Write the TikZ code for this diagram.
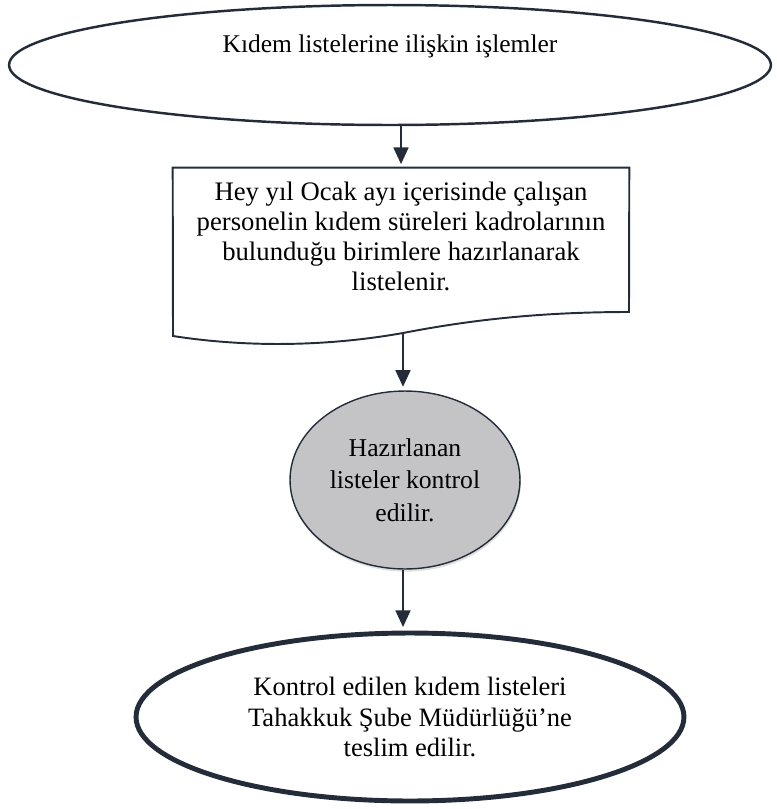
\documentclass[tikz,border=0pt]{standalone}
\usepackage{fontspec}
\setmainfont{Liberation Serif}
\usetikzlibrary{shapes.geometric,arrows.meta,shadows}
\definecolor{cizgi}{RGB}{36,44,58}
\definecolor{gri}{RGB}{196,196,198}
\tikzset{
  ok/.style={draw=cizgi,line width=1.1pt,shorten >=2pt,-{Triangle[length=9.5pt,width=8.5pt]}},
  metin/.style={align=center,font=\fontsize{15}{17.4}\selectfont},
}
\begin{document}
\begin{tikzpicture}[x=0.02cm,y=-0.02cm]
\useasboundingbox (0,0) rectangle (777,809);
% baslangic
\node[ellipse,draw=cizgi,line width=1.4pt,minimum width=15.24cm,minimum height=2.4cm] (bas) at (390,65) {};
\node[metin,font=\fontsize{14.5}{17}\selectfont] (bastxt) at (390,46) {Kıdem listelerine ilişkin işlemler};
% belge
\node[metin,font=\fontsize{15.2}{17.1}\selectfont,minimum width=9.12cm,minimum height=2.72cm] (doc) at (401,236)
  {Hey yıl Ocak ayı içerisinde çalışan\\personelin kıdem süreleri kadrolarının\\bulunduğu birimlere hazırlanarak\\listelenir.};
\draw[draw=cizgi,line width=1.1pt] (doc.north west) -- (doc.north east) -- (629,312)
  .. controls (540,312) and (470,320) .. (403,333) coordinate (wv)
  .. controls (330,346) and (250,348) .. (173,336) -- cycle;
% kontrol
\node[metin,font=\fontsize{14.6}{18.5}\selectfont,ellipse,draw=cizgi,line width=0.8pt,fill=gri,inner xsep=0pt,inner ysep=0pt,
  minimum width=4.6cm,minimum height=3.56cm,
  drop shadow={opacity=0.25,shadow xshift=0.5pt,shadow yshift=-1.5pt}] (chk) at (405,480)
  {Hazırlanan\\listeler kontrol\\edilir.};
% bitis
\node[metin,font=\fontsize{15.1}{17.4}\selectfont,ellipse,draw=cizgi,line width=2.8pt,
  minimum width=10.96cm,minimum height=3.36cm] (son) at (410,717)
  {Kontrol edilen kıdem listeleri\\Tahakkuk Şube Müdürlüğü’ne\\teslim edilir.};
% oklar
\draw[ok] (doc.north |- bas.south) -- (doc.north);
\draw[ok] (wv) -- (wv |- chk.north);
\draw[ok] (wv |- chk.south) -- (wv |- son.north);
\end{tikzpicture}
\end{document}
